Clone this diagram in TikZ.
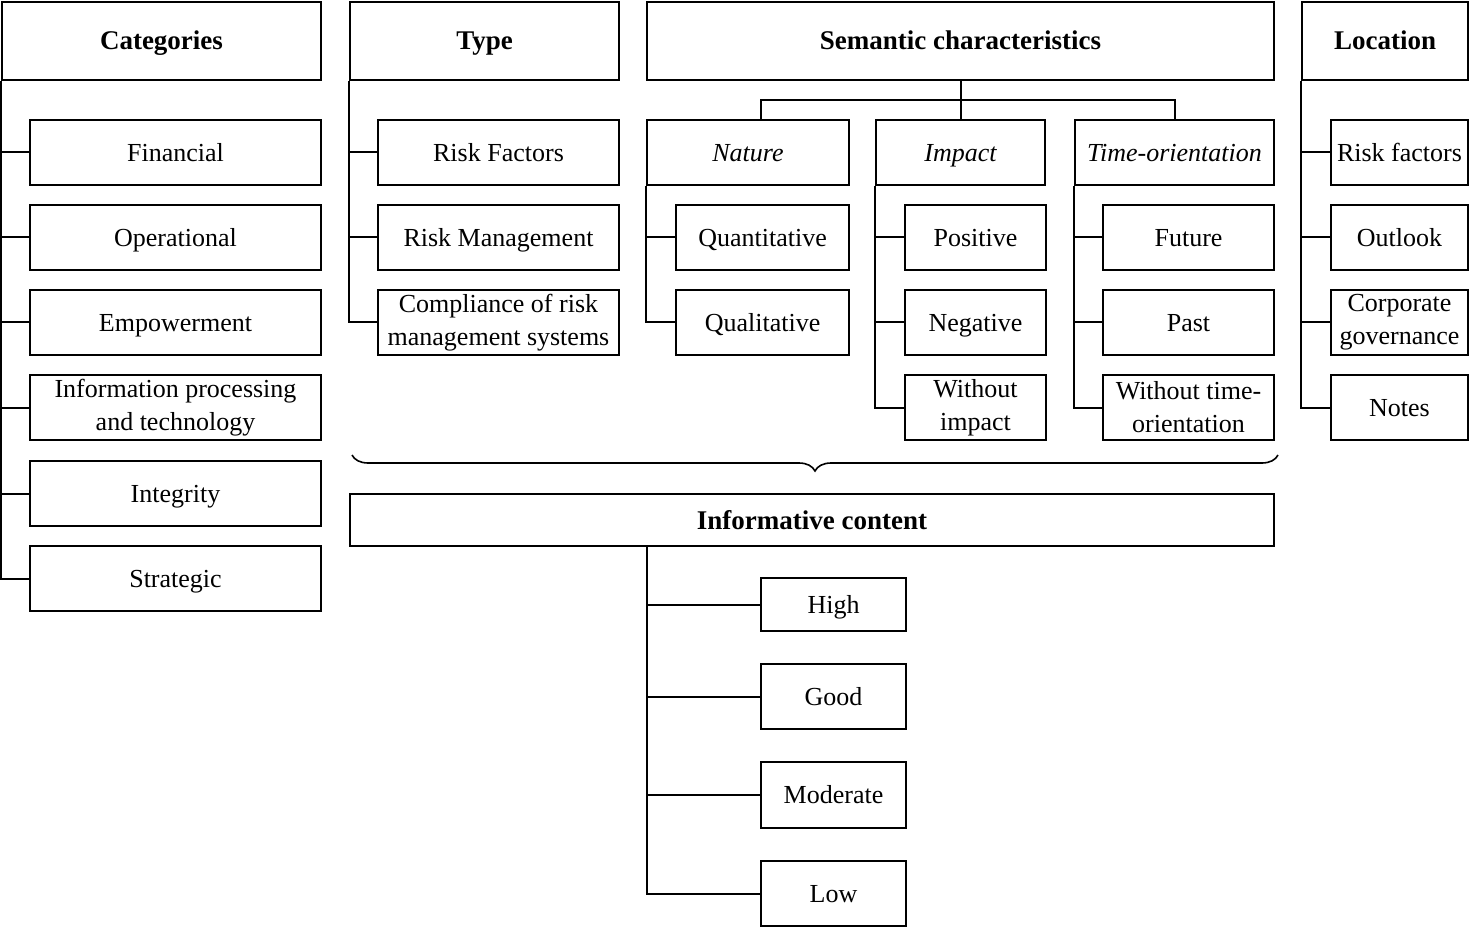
\documentclass[tikz,border=0pt]{standalone}
\usepackage{fontspec}
\setmainfont{Liberation Serif}
\usetikzlibrary{decorations.pathreplacing}
\tikzset{
    head-box/.style = {draw, rectangle, minimum height=39pt, inner sep=2pt, text height=11.5pt, text depth=2.5pt, font=\fontsize{13.5}{16}\selectfont\bfseries},
    item-box/.style = {draw, rectangle, minimum height=32.5pt, inner sep=2pt, align=center, text height=11pt, text depth=2.4pt, font=\fontsize{13}{16.5}\selectfont},
    two-line/.style = {text height=, text depth=},
    sub-box/.style = {item-box, font=\fontsize{13}{16.5}\selectfont\itshape},
    tree-line/.style = {line width=1pt},
}

\begin{document}
\begin{tikzpicture}[x=0.5pt, y=-0.5pt, line width=1pt]
\useasboundingbox (0,0) rectangle (1470,930);

% headers
\node[head-box, minimum width=159.5pt] (cat) at (161.5,41) {Categories};
\node[head-box, minimum width=134.5pt] (typ) at (484.5,41) {Type};
\node[head-box, minimum width=313.5pt] (sem) at (960.5,41) {Semantic characteristics};
\node[head-box, minimum width=83pt] (loc) at (1385,41) {Location};

% categories
\node[item-box, minimum width=145.5pt] (fin) at (175.5,152.5) {Financial};
\node[item-box, minimum width=145.5pt] (ope) at (175.5,237.5) {Operational};
\node[item-box, minimum width=145.5pt] (emp) at (175.5,322.5) {Empowerment};
\node[item-box, two-line, minimum width=145.5pt] (inf) at (175.5,407.5) {Information processing\\and technology};
\node[item-box, minimum width=145.5pt] (int) at (175.5,493.5) {Integrity};
\node[item-box, minimum width=145.5pt] (str) at (175.5,578.5) {Strategic};

% type
\node[item-box, minimum width=120.5pt] (rfa) at (498.5,152.5) {Risk Factors};
\node[item-box, minimum width=120.5pt] (rma) at (498.5,237.5) {Risk Management};
\node[item-box, two-line, minimum width=120.5pt] (com) at (498.5,322.5) {Compliance of risk\\management systems};

% semantic characteristics
\node[sub-box, minimum width=101pt] (nat) at (748,152.5) {Nature};
\node[sub-box, minimum width=84.5pt] (imp) at (960.5,152.5) {Impact};
\node[sub-box, minimum width=99.5pt] (tim) at (1174.5,152.5) {Time-orientation};
\node[item-box, minimum width=86.5pt] (qua) at (762.5,237.5) {Quantitative};
\node[item-box, minimum width=86.5pt] (qul) at (762.5,322.5) {Qualitative};
\node[item-box, minimum width=70.5pt] (pos) at (975.5,237.5) {Positive};
\node[item-box, minimum width=70.5pt] (neg) at (975.5,322.5) {Negative};
\node[item-box, two-line, minimum width=70.5pt] (wim) at (975.5,407.5) {Without\\impact};
\node[item-box, minimum width=85.5pt] (fut) at (1188.5,237.5) {Future};
\node[item-box, minimum width=85.5pt] (pas) at (1188.5,322.5) {Past};
\node[item-box, two-line, minimum width=85.5pt] (wto) at (1188.5,407.5) {Without time-\\orientation};

% location
\node[item-box, minimum width=68.5pt] (lrf) at (1399.5,152.5) {Risk factors};
\node[item-box, minimum width=68.5pt] (out) at (1399.5,237.5) {Outlook};
\node[item-box, two-line, minimum width=68.5pt] (cgo) at (1399.5,322.5) {Corporate\\governance};
\node[item-box, minimum width=68.5pt] (not) at (1399.5,407.5) {Notes};

% informative content
\node[head-box, minimum width=462pt, minimum height=26pt] (ico) at (812,520) {Informative content};
\node[item-box, minimum width=72.5pt, minimum height=26.5pt] (hig) at (833.5,604.5) {High};
\node[item-box, minimum width=72.5pt] (goo) at (833.5,696.5) {Good};
\node[item-box, minimum width=72.5pt, minimum height=33pt] (mod) at (833.5,795) {Moderate};
\node[item-box, minimum width=72.5pt] (low) at (833.5,893.5) {Low};

\coordinate (split) at (960.5,100);
\coordinate (ico-bus) at (647,546);
\coordinate (brace-l) at (352,455);
\coordinate (brace-r) at (1278,455);

% connectors
\draw[tree-line] (cat.south west) |- (fin.west) (cat.south west) |- (ope.west)
    (cat.south west) |- (emp.west) (cat.south west) |- (inf.west)
    (cat.south west) |- (int.west) (cat.south west) |- (str.west);
\draw[tree-line] (typ.south west) |- (rfa.west) (typ.south west) |- (rma.west)
    (typ.south west) |- (com.west);
\draw[tree-line] (sem.south) -- (imp.north);
\draw[tree-line] ([xshift=6.5pt]nat.north) |- (split) -| (tim.north);
\draw[tree-line] (nat.south west) |- (qua.west) (nat.south west) |- (qul.west);
\draw[tree-line] (imp.south west) |- (pos.west) (imp.south west) |- (neg.west)
    (imp.south west) |- (wim.west);
\draw[tree-line] (tim.south west) |- (fut.west) (tim.south west) |- (pas.west)
    (tim.south west) |- (wto.west);
\draw[tree-line] (loc.south west) |- (lrf.west) (loc.south west) |- (out.west)
    (loc.south west) |- (cgo.west) (loc.south west) |- (not.west);
\draw[tree-line] (ico-bus) |- (hig.west) (ico-bus) |- (goo.west)
    (ico-bus) |- (mod.west) (ico-bus) |- (low.west);

% brace over the informative content
\draw[line width=0.8pt, decorate, decoration={brace, mirror, amplitude=8pt}] (brace-l) -- (brace-r);
\end{tikzpicture}
\end{document}
